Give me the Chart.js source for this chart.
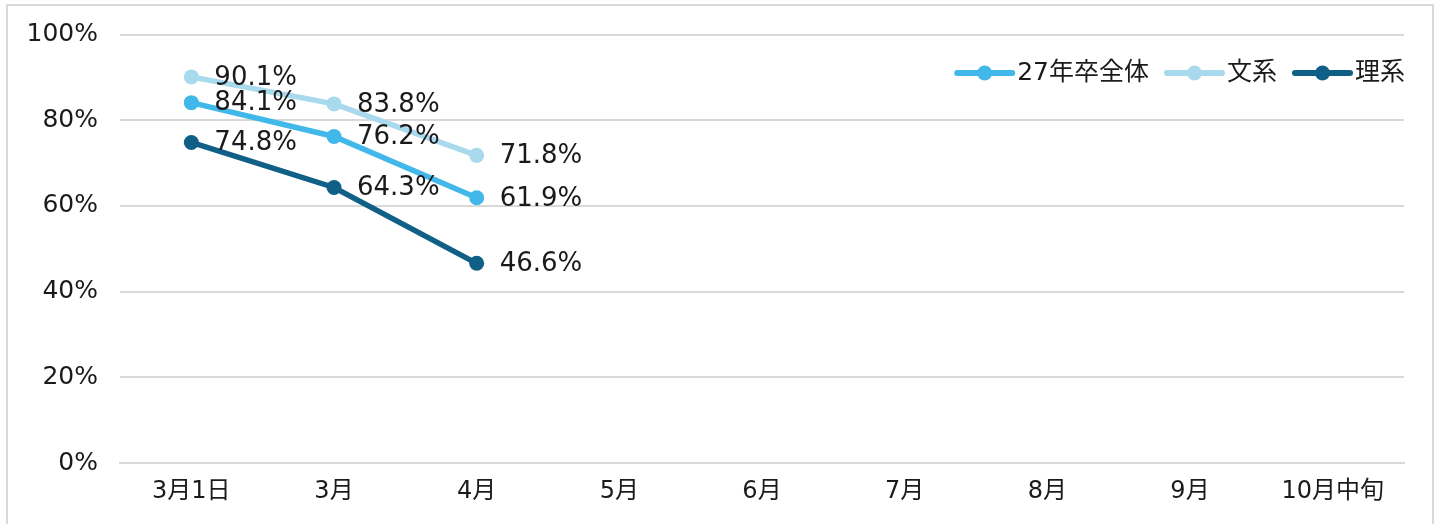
<!DOCTYPE html>
<html>
<head>
<meta charset="utf-8">
<script src="https://cdn.jsdelivr.net/npm/chart.js@4"></script>
<style>
  html, body { margin: 0; padding: 0; background: #fff; overflow: hidden; }
  #wrap { width: 1440px; height: 524px; position: relative; }
</style>
</head>
<body>
<div id="wrap"><canvas id="chart" width="1440" height="524"></canvas></div>
<script>
const labels = ['3月1日', '3月', '4月', '5月', '6月', '7月', '8月', '9月', '10月中旬'];
const zentai = [84.1, 76.2, 61.9, null, null, null, null, null, null];
const bunkei = [90.1, 83.8, 71.8, null, null, null, null, null, null];
const rikei = [74.8, 64.3, 46.6, null, null, null, null, null, null];
const yTicks = [0, 20, 40, 60, 80, 100];

const FONT = '"DejaVu Sans", "Noto Sans CJK JP", sans-serif';
const TEXT = '#1a1a1a';
const GRID = '#d9d9d9';

// outer frame around the chart
const frame = {
  id: 'frame',
  beforeDraw(chart) {
    const ctx = chart.ctx;
    ctx.save();
    ctx.strokeStyle = '#d9d9d9';
    ctx.lineWidth = 2;
    ctx.strokeRect(7, 5, 1426, 540);
    ctx.restore();
  }
};

// value labels to the right of each point
const valueLabels = {
  id: 'valueLabels',
  afterDatasetsDraw(chart) {
    const ctx = chart.ctx;
    ctx.save();
    ctx.font = '26px ' + FONT;
    ctx.fillStyle = TEXT;
    ctx.textAlign = 'left';
    ctx.textBaseline = 'middle';
    chart.data.datasets.forEach((ds, i) => {
      chart.getDatasetMeta(i).data.forEach((pt, j) => {
        const v = ds.data[j];
        if (v == null) return;
        ctx.fillText(v.toFixed(1) + '%', pt.x + 23, pt.y + 1);
      });
    });
    ctx.restore();
  }
};

// legend: line with dot, inside top-right of plot, right edge at 1405
const lineLegend = {
  id: 'lineLegend',
  afterDraw(chart) {
    const ctx = chart.ctx;
    ctx.save();
    ctx.font = '25px ' + FONT;
    ctx.textBaseline = 'middle';
    const y = 73;
    const items = chart.data.datasets;
    let total = 0;
    items.forEach((ds, i) => {
      total += 60 + ctx.measureText(ds.label).width + (i < items.length - 1 ? 18 : 0);
    });
    let x = 1405 - total;
    items.forEach(ds => {
      ctx.strokeStyle = ds.borderColor;
      ctx.lineWidth = 6;
      ctx.lineCap = 'round';
      ctx.beginPath();
      ctx.moveTo(x, y);
      ctx.lineTo(x + 55, y);
      ctx.stroke();
      ctx.fillStyle = ds.borderColor;
      ctx.beginPath();
      ctx.arc(x + 27.5, y, 7.5, 0, Math.PI * 2);
      ctx.fill();
      ctx.fillStyle = TEXT;
      ctx.fillText(ds.label, x + 60, y);
      x += 60 + ctx.measureText(ds.label).width + 18;
    });
    ctx.restore();
  }
};

function series(label, data, color) {
  return {
    label: label,
    data: data,
    borderColor: color,
    backgroundColor: color,
    borderWidth: 5.5,
    pointRadius: 7.5,
    pointHoverRadius: 7.5,
    pointBackgroundColor: color,
    pointBorderWidth: 0,
    tension: 0,
    spanGaps: false
  };
}

new Chart(document.getElementById('chart'), {
  type: 'line',
  data: {
    labels: labels,
    datasets: [
      series('27年卒全体', zentai, '#41b8e9'),
      series('文系', bunkei, '#a9d9ec'),
      series('理系', rikei, '#0f5f87')
    ]
  },
  options: {
    responsive: false,
    animation: false,
    events: [],
    layout: { padding: { top: 34, left: 0, right: 36, bottom: 0 } },
    plugins: {
      legend: { display: false },
      tooltip: { enabled: false }
    },
    scales: {
      x: {
        offset: true,
        grid: { display: false, drawTicks: false },
        border: { display: true, color: GRID, width: 2 },
        ticks: { font: { family: FONT, size: 24 }, color: TEXT, padding: 14, maxRotation: 0, autoSkip: false },
        afterFit(scale) { scale.height = 61; }
      },
      y: {
        min: 0,
        max: 100,
        afterBuildTicks(scale) { scale.ticks = yTicks.map(v => ({ value: v })); },
        grid: { color: GRID, lineWidth: 2, drawTicks: false },
        border: { display: false },
        ticks: {
          font: { family: FONT, size: 25, lineHeight: 1 },
          color: TEXT,
          padding: 22,
          callback: v => v + '%'
        },
        afterFit(scale) { scale.width = 120; }
      }
    }
  },
  plugins: [frame, valueLabels, lineLegend]
});
</script>
</body>
</html>
